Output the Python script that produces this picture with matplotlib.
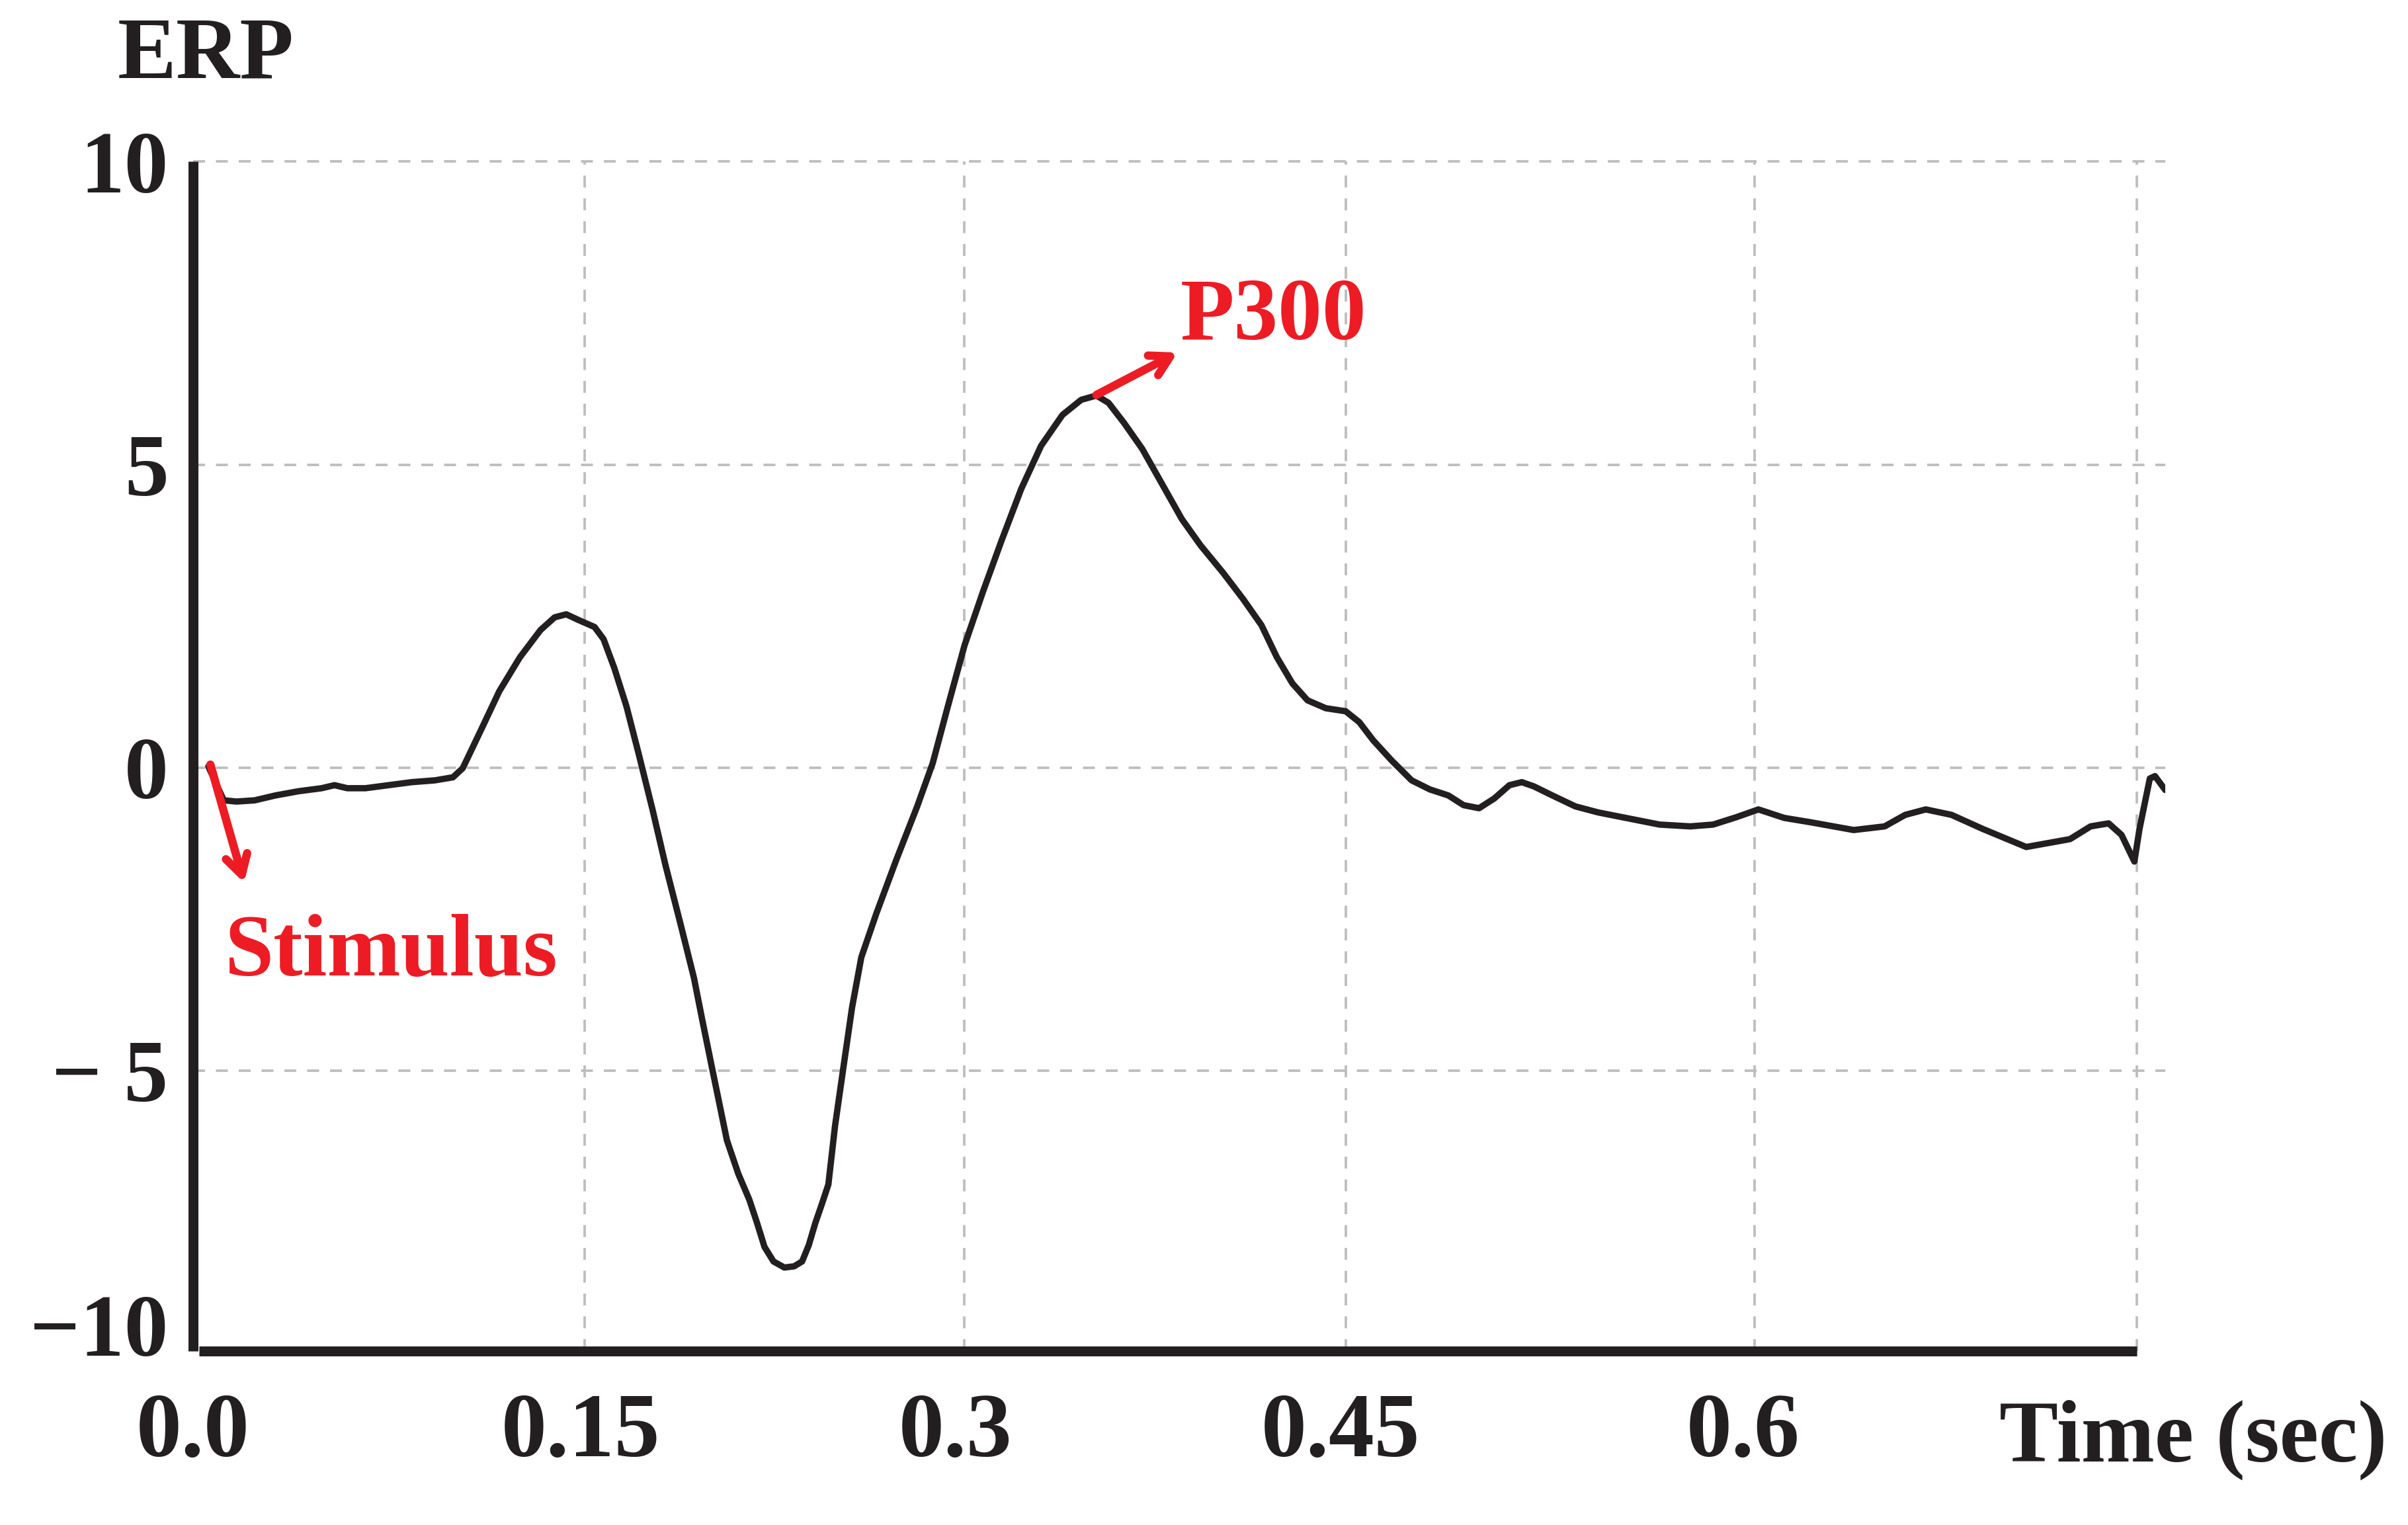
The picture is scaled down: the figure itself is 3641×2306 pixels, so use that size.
import matplotlib
matplotlib.use("Agg")
import matplotlib.pyplot as plt

# ERP waveform (time in sec, amplitude)
time_s = [0.001, 0.004, 0.007, 0.012, 0.019, 0.027, 0.036, 0.045, 0.050, 0.055,
          0.062, 0.071, 0.080, 0.089, 0.096, 0.0998, 0.107, 0.114, 0.122, 0.130,
          0.1355, 0.140, 0.1456, 0.151, 0.1545, 0.1587, 0.1634, 0.168, 0.1735,
          0.1786, 0.1842, 0.1896, 0.1930, 0.1965, 0.1995, 0.2024, 0.2068, 0.2111, 0.2140,
          0.2170, 0.2205, 0.2247, 0.2285, 0.2316, 0.2342, 0.2367, 0.2393, 0.2418, 0.2444,
          0.2477, 0.2510, 0.2546, 0.2605, 0.2682,
          0.2763, 0.2823, 0.2882, 0.2947, 0.3019, 0.309, 0.3167, 0.3244, 0.3327,
          0.340, 0.3459, 0.3506, 0.3566, 0.3637, 0.3714, 0.3791, 0.3863, 0.3952, 0.4029,
          0.410, 0.416, 0.422, 0.4279, 0.435, 0.4427, 0.448, 0.4534, 0.4605, 0.4683,
          0.4754, 0.4826, 0.4885, 0.4945, 0.5004, 0.5063, 0.5111, 0.5158, 0.523, 0.5319,
          0.5408, 0.5527, 0.5646, 0.5765, 0.5854, 0.5943, 0.603, 0.613, 0.623, 0.640,
          0.652, 0.660, 0.668, 0.678, 0.690, 0.707, 0.724, 0.732, 0.739, 0.744,
          0.749, 0.751, 0.755, 0.757, 0.761]
erp = [0.02, -0.26, -0.54, -0.56, -0.54, -0.46, -0.39, -0.34, -0.29, -0.34,
       -0.34, -0.29, -0.24, -0.21, -0.16, -0.01, 0.63, 1.26, 1.82, 2.27,
       2.48, 2.53, 2.42, 2.32, 2.12, 1.64, 1.01, 0.25, -0.69,
       -1.62, -2.55, -3.47, -4.20, -4.93, -5.55, -6.15, -6.70, -7.13, -7.50,
       -7.91, -8.15, -8.25, -8.23, -8.15, -7.88, -7.52, -7.20, -6.88, -5.91,
       -4.93, -3.96, -3.13, -2.40, -1.52,
       -0.64, 0.07, 1.01, 2.02, 2.91, 3.74, 4.60, 5.31, 5.82,
       6.07, 6.14, 6.02, 5.69, 5.26, 4.68, 4.10, 3.67, 3.21, 2.78,
       2.35, 1.82, 1.39, 1.11, 0.98, 0.93, 0.75, 0.45, 0.12, -0.21,
       -0.36, -0.46, -0.62, -0.67, -0.51, -0.29, -0.24, -0.31, -0.46, -0.64,
       -0.74, -0.84, -0.94, -0.97, -0.94, -0.82, -0.69, -0.83, -0.90, -1.03,
       -0.97, -0.78, -0.69, -0.78, -1.01, -1.31, -1.18, -0.97, -0.92, -1.11,
       -1.55, -1.01, -0.18, -0.14, -0.37]

# the source figure is hand-laid out: grid and labels sit slightly off the even steps
x_grid = [0.1471, 0.2945, 0.4429, 0.6016, 0.75]
x_label_pos = [-0.0049, 0.1455, 0.2911, 0.4408, 0.5971]
x_labels = ["0.0", "0.15", "0.3", "0.45", "0.6"]
y_grid = [-5, 0, 5, 10]
y_label_pos = [-9.2, -5, 0, 5, 10]
y_labels = ["\u221210", "\u2212 5", "0", "5", "10"]

# annotation anchors (time, amplitude)
stim_tail = (0.0018, 0.05)
stim_head = (0.0149, -1.90)
stim_text = (0.0075, -3.08)
p300_tail = (0.3459, 6.15)
p300_head = (0.3774, 6.85)
p300_text = (0.3785, 7.42)

plt.rcParams['font.family'] = ['Liberation Serif', 'DejaVu Serif']
plt.rcParams['font.weight'] = 'bold'

ink = '#231f20'
red = '#ed1c24'

fig = plt.figure(figsize=(3641 / 300, 2306 / 300), dpi=300)
ax = fig.add_axes([0.0802, 0.114, 0.819, 0.780])

for gx in x_grid:
    ax.axvline(gx, color='#bdbdbd', lw=0.9, dashes=(4.8, 4.4), zorder=0)
for gy in y_grid:
    ax.axhline(gy, color='#bdbdbd', lw=0.9, dashes=(4.8, 4.4), zorder=0, clip_on=False)

ax.plot(time_s, erp, color=ink, lw=2.3, solid_joinstyle='round', solid_capstyle='round', zorder=3)

ax.set_xlim(-0.0026, 0.761)
ax.set_ylim(-9.63, 10.0)

for side in ['top', 'right']:
    ax.spines[side].set_visible(False)
for side in ['left', 'bottom']:
    ax.spines[side].set_linewidth(3.6)
    ax.spines[side].set_color(ink)
    ax.spines[side].set_capstyle('butt')
ax.spines['bottom'].set_bounds(-0.0026, 0.75)
ax.spines['left'].set_bounds(-9.63, 10.0)

ax.set_xticks(x_label_pos)
ax.set_xticklabels(x_labels)
ax.set_yticks(y_label_pos)
ax.set_yticklabels(y_labels)
ax.tick_params(axis='x', length=0, pad=15, labelsize=33, labelcolor=ink)
ax.tick_params(axis='y', length=0, pad=9, labelsize=32, labelcolor=ink)

# arrows and labels
arrow_style = dict(arrowstyle='->,head_length=0.7,head_width=0.4', color=red, lw=3.0,
                   shrinkA=0, shrinkB=0)
ax.annotate('', xy=stim_head, xytext=stim_tail, arrowprops=arrow_style, zorder=4)
ax.annotate('', xy=p300_head, xytext=p300_tail, arrowprops=arrow_style, zorder=4)
ax.text(stim_text[0], stim_text[1], 'Stimulus', color=red, fontsize=32,
        fontweight='bold', ha='left', va='center')
ax.text(p300_text[0], p300_text[1], 'P300', color=red, fontsize=32,
        fontweight='bold', ha='left', va='center')

fig.text(0.0855, 0.963, 'ERP', fontsize=32, fontweight='bold', color=ink,
         ha='center', va='center')
fig.text(0.9107, 0.056, 'Time (sec)', fontsize=32, fontweight='bold', color=ink,
         ha='center', va='center')

fig.savefig('out.png', dpi=300)
